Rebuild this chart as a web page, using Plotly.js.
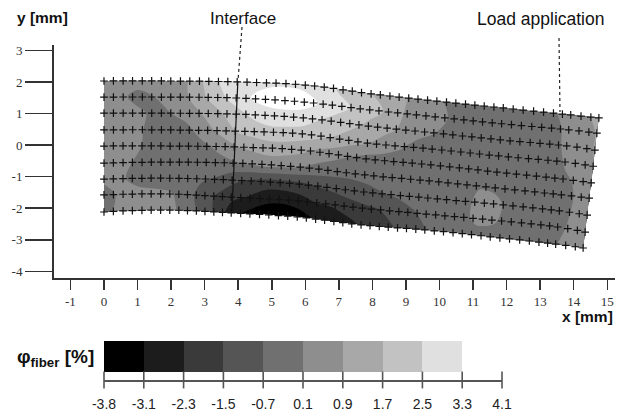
<!DOCTYPE html>
<html>
<head>
<meta charset="utf-8">
<script src="https://cdn.plot.ly/plotly-3.0.1.min.js"></script>
<style>html,body{margin:0;padding:0;background:#fff}</style>
</head>
<body>
<div id="chart" style="width:629px;height:412px"></div>
<script>
// Deformed mesh (mm): one row per mesh line, top to bottom; one column per station
const meshA = [0, 2, 4, 6, 8, 10, 12, 14, 14.8];
const meshB = [0, 1, 2, 3, 4, 5, 6, 7, 8];
const meshX = [
  [0, 2.00, 3.99, 6.02, 7.99, 9.96, 11.95, 13.95, 14.75],
  [0, 2.00, 3.96, 5.99, 7.95, 9.91, 11.90, 13.89, 14.69],
  [0, 2.00, 3.96, 5.96, 7.91, 9.87, 11.86, 13.83, 14.63],
  [0, 2.00, 3.93, 5.93, 7.88, 9.82, 11.81, 13.78, 14.58],
  [0, 1.98, 3.90, 5.90, 7.84, 9.78, 11.76, 13.72, 14.52],
  [0, 1.98, 3.87, 5.87, 7.80, 9.73, 11.71, 13.67, 14.46],
  [0, 1.97, 3.84, 5.84, 7.77, 9.69, 11.66, 13.61, 14.40],
  [0, 1.97, 3.81, 5.81, 7.73, 9.64, 11.61, 13.56, 14.34],
  [0, 1.97, 3.81, 5.78, 7.69, 9.60, 11.56, 13.50, 14.28]
];
const meshY = [
  [ 2.03,  2.03,  2.00,  1.90,  1.62,  1.39,  1.17,  0.95,  0.86],
  [ 1.52,  1.52,  1.49,  1.36,  1.11,  0.89,  0.67,  0.48,  0.38],
  [ 1.01,  1.01,  0.98,  0.86,  0.60,  0.38,  0.16, -0.03, -0.16],
  [ 0.48,  0.48,  0.44,  0.35,  0.06, -0.13, -0.35, -0.54, -0.67],
  [-0.03, -0.03, -0.06, -0.16, -0.44, -0.63, -0.86, -1.08, -1.20],
  [-0.57, -0.54, -0.57, -0.70, -0.95, -1.14, -1.36, -1.58, -1.68],
  [-1.08, -1.05, -1.11, -1.24, -1.49, -1.68, -1.87, -2.09, -2.22],
  [-1.58, -1.55, -1.65, -1.77, -2.00, -2.19, -2.38, -2.60, -2.76],
  [-2.12, -2.06, -2.15, -2.28, -2.53, -2.69, -2.91, -3.14, -3.26]
];

// Fibre strain field (%) on the mesh
const fieldA = [0,0.5,1,1.5,2,2.5,3,3.5,4,4.5,5,5.5,6,6.5,7,7.5,8,8.5,9,9.5,10,10.5,11,11.5,12,12.5,13,13.5,14,14.5,14.8];
const fieldB = [0,1,2,3,4,5,6,7,8];
const phiFiber = [
  [0.5,0.5,0.5,0.5,0.6,0.9,1.8,2.6,3.0,3.1,3.2,3.2,3.1,2.9,2.4,2.0,1.7,1.3,0.95,0.6,0.2,-0.1,-0.2,-0.2,-0.2,-0.2,-0.1,0.1,0.5,0.9,1.0],
  [0.5,0.3,-0.2,0.1,0.4,0.85,1.6,2.3,2.9,3.4,3.6,3.7,3.6,3.2,2.8,2.4,2.0,1.6,0.9,0.6,0.3,0.0,-0.2,-0.3,-0.3,-0.3,-0.3,-0.1,0.4,0.7,0.95],
  [0.5,0.5,0.3,-0.1,0.1,0.4,1.0,1.6,2.2,2.7,3.0,3.0,2.9,2.5,2.2,1.9,1.5,1.1,0.8,0.4,0.1,-0.2,-0.3,-0.3,-0.3,-0.3,-0.3,-0.1,0.3,0.5,1.0],
  [0.5,0.4,0.2,-0.1,-0.3,-0.1,0.5,1.1,1.7,2.0,2.2,2.2,2.1,1.9,1.6,1.2,0.9,0.6,0.2,-0.2,-0.3,-0.3,-0.3,-0.3,-0.3,-0.3,-0.3,-0.2,0.2,0.4,0.8],
  [0.5,0.4,0.2,-0.2,-0.3,-0.2,-0.1,0.3,0.8,1.1,1.3,1.3,1.1,0.7,0.4,0.1,-0.2,-0.3,-0.3,-0.3,-0.3,-0.3,-0.3,-0.3,-0.3,-0.3,-0.3,-0.2,0.0,0.3,0.6],
  [0.5,0.3,0.0,-0.2,-0.3,-0.3,-0.3,-0.2,0.0,0.2,0.4,0.3,0.1,-0.2,-0.4,-0.5,-0.5,-0.4,-0.3,-0.2,-0.3,-0.3,-0.2,0.05,-0.05,-0.3,-0.3,-0.3,-0.1,0.25,0.5],
  [0.2,0.2,-0.1,-0.3,-0.4,-0.5,-0.6,-0.8,-1.3,-1.6,-1.8,-1.8,-1.7,-1.5,-1.3,-1.1,-0.9,-0.75,-0.6,-0.45,-0.4,-0.3,-0.2,0.3,0.3,-0.2,-0.3,-0.3,-0.1,0.3,0.5],
  [-0.1,0.2,0.3,0.3,0.2,-0.3,-1.0,-1.6,-2.1,-2.4,-2.85,-2.9,-2.7,-2.3,-2.2,-1.9,-1.7,-1.5,-1.2,-0.8,-0.5,-0.3,-0.2,0.3,0.2,-0.2,-0.3,-0.2,0.0,0.3,0.5],
  [-0.1,0.3,0.4,0.4,0.3,-0.2,-0.9,-1.7,-2.8,-3.3,-3.6,-3.7,-3.5,-3.05,-2.9,-2.6,-2.2,-1.9,-1.5,-1.0,-0.7,-0.4,-0.3,-0.2,-0.2,-0.3,-0.2,-0.1,0.1,0.5,0.6]
];

// Measurement grid nodes (mesh coordinates)
const nodeA = [0,0.28,0.57,0.85,1.14,1.42,1.71,1.99,2.28,2.56,2.85,3.13,3.42,3.70,3.98,4.27,4.55,4.84,5.12,5.41,5.69,5.98,6.26,6.55,6.83,7.12,7.40,7.68,7.97,8.25,8.54,8.82,9.11,9.39,9.68,9.96,10.25,10.53,10.82,11.10,11.38,11.67,11.95,12.24,12.52,12.81,13.09,13.38,13.66,13.95,14.23,14.52,14.80];
const nodeB = [0,1,2,3,4,5,6,7,8];

// Interface line (mm)
const interfaceX = [3.99, 3.81];
const interfaceY = [2.03, -2.15];

// Colour scale
const levelLabels = ['-3.8','-3.1','-2.3','-1.5','-0.7','0.1','0.9','1.7','2.5','3.3','4.1'];
const levelTicks = [0,1,2,3,4,5,6,7,8,9,10];
const binGreys = ['#000000','#1c1c1c','#3a3a3a','#555555','#707070','#8e8e8e','#a8a8a8','#c2c2c2','#e0e0e0','#ffffff'];
const binValues = [-3.5,-2.7,-1.9,-1.1,-0.3,0.5,1.3,2.1,2.9,3.7];

const xTicks = [-1,0,1,2,3,4,5,6,7,8,9,10,11,12,13,14,15];
const yTicks = [-4,-3,-2,-1,0,1,2,3];

const stepScale = [];
binGreys.forEach((c, i) => { stepScale.push([i / 10, c]); stepScale.push([(i + 1) / 10, c]); });

const nodesA = [], nodesB = [];
nodeB.forEach(b => nodeA.forEach(a => { nodesA.push(a); nodesB.push(b); }));

const W = 629, H = 412;
const axisInk = '#333333';
const hiddenAxis = {showticklabels:'none', showgrid:false, showline:false, startline:false, endline:false,
  minorgridcount:0, ticks:'', title:{text:''}};

const traces = [
  {type:'carpet', carpet:'mesh', a:meshA, b:meshB, x:meshX, y:meshY, xaxis:'x', yaxis:'y',
   aaxis:hiddenAxis, baxis:hiddenAxis},
  {type:'contourcarpet', carpet:'mesh', a:fieldA, b:fieldB, z:phiFiber, xaxis:'x', yaxis:'y',
   autocontour:false, contours:{start:-3.1, end:3.3, size:0.8, coloring:'fill', showlines:false},
   line:{width:0}, zauto:false, zmin:-3.9, zmax:4.1, colorscale:stepScale, showscale:false},
  {type:'scatter', mode:'lines', x:interfaceX, y:interfaceY, xaxis:'x', yaxis:'y',
   line:{color:'#111', width:1.2}, showlegend:false},
  {type:'scattercarpet', carpet:'mesh', a:nodesA, b:nodesB, mode:'markers', xaxis:'x', yaxis:'y',
   marker:{symbol:'cross-thin', size:5.5, line:{color:'#111', width:1.2}}, showlegend:false},
  {type:'heatmap', x:levelTicks, y:[8, 39], z:[binValues], xaxis:'x2', yaxis:'y2',
   zauto:false, zmin:-3.9, zmax:4.1, colorscale:stepScale, showscale:false},
  {type:'scatter', mode:'markers', x:levelTicks, y:levelTicks.map(() => 0), xaxis:'x2', yaxis:'y2', cliponaxis:false,
   marker:{symbol:'line-ns', size:12, line:{color:'#555', width:1.6}}, showlegend:false}
];

const paperX = px => px / W, paperY = py => 1 - py / H;

const note = (text, px, py, anchor, size, bold) => ({
  text: bold ? '<b>' + text + '</b>' : text, xref:'paper', yref:'paper', x:paperX(px), y:paperY(py),
  xanchor:anchor, yanchor:'middle', showarrow:false,
  font:{family:'Liberation Sans, Arial, sans-serif', size:size, color:'#111'}
});

const dash = (x0, y0, x1, y1) => ({type:'line', xref:'paper', yref:'paper',
  x0:paperX(x0), y0:paperY(y0), x1:paperX(x1), y1:paperY(y1),
  line:{color:'#222', width:1.2, dash:'3px,3px'}});

const layout = {
  width:W, height:H, margin:{l:0, r:0, t:0, b:0}, paper_bgcolor:'#fff', plot_bgcolor:'#fff', showlegend:false,
  xaxis:{domain:[54/W, 615/W], range:[-1.49, 15.23], anchor:'y', showgrid:false, zeroline:false,
    showline:true, linecolor:axisInk, linewidth:2, ticks:'outside', ticklen:10, tickwidth:1.5, tickcolor:axisInk,
    tickmode:'array', tickvals:xTicks, ticktext:xTicks.map(String),
    tickfont:{family:'Liberation Serif, serif', size:13, color:'#333'}},
  yaxis:{domain:[(H-278)/H, (H-45)/H], range:[-4.21, 3.17], anchor:'x', showgrid:false, zeroline:false,
    showline:true, linecolor:axisInk, linewidth:2, ticks:'outside', ticklen:27, tickwidth:1.5, tickcolor:axisInk,
    tickmode:'array', tickvals:yTicks, ticktext:yTicks.map(String),
    tickfont:{family:'Liberation Serif, serif', size:13, color:'#333'}},
  xaxis2:{domain:[104/W, 502/W], range:[0, 10], anchor:'y2', showgrid:false, zeroline:false,
    showline:true, linecolor:'#555', linewidth:1.6, ticks:'outside', ticklen:11, tickcolor:'rgba(0,0,0,0)',
    tickmode:'array', tickvals:levelTicks, ticktext:levelLabels,
    tickfont:{family:'Liberation Sans, Arial, sans-serif', size:14, color:'#222'}},
  yaxis2:{domain:[(H-380)/H, (H-341)/H], range:[0, 39], anchor:'x2', visible:false},
  shapes:[dash(242, 27, 238, 81), dash(559, 38, 560, 112)],
  annotations:[
    note('y [mm]', 15, 18, 'left', 15.5, true),
    note('x [mm]', 615, 316, 'right', 15.5, true),
    note('Interface', 208, 19, 'left', 17, false),
    note('Load application', 606, 19, 'right', 17.5, false),
    note('φ<sub>fiber</sub> [%]', 15, 358, 'left', 19, true)
  ]
};

Plotly.newPlot('chart', traces, layout, {displayModeBar:false, staticPlot:true});
</script>
</body>
</html>
